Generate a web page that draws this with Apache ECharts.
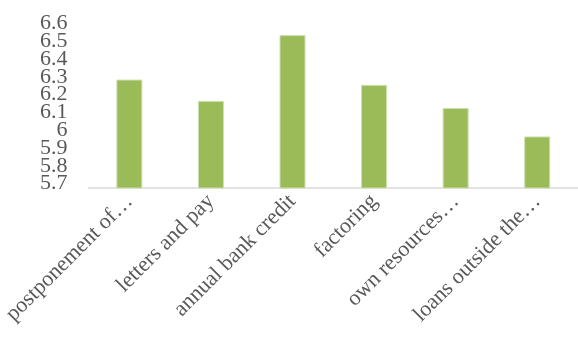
<!DOCTYPE html>
<html>
<head>
<meta charset="utf-8">
<script src="https://cdn.jsdelivr.net/npm/echarts@6/dist/echarts.min.js"></script>
<style>
  html, body { margin: 0; padding: 0; background: #fff; }
  #main { width: 578px; height: 344px; }
</style>
</head>
<body>
<div id="main"></div>
<script>
// categories as shown (truncated by the original chart)
const categories = [
  "postponement of…",
  "letters and pay",
  "annual bank credit",
  "factoring",
  "own resources…",
  "loans outside the…"
];
const values = [6.31, 6.19, 6.56, 6.28, 6.15, 5.99];
const yMin = 5.7;
const yMax = 6.6;
const yStep = 0.1;
// tick labels, bottom to top
const yTickLabels = ["5.7", "5.8", "5.9", "6", "6.1", "6.2", "6.3", "6.4", "6.5", "6.6"];

const labelFont = {
  color: "#595959",
  fontFamily: "Liberation Serif"
};

const myChart = echarts.init(document.getElementById("main"));
myChart.setOption({
  animation: false,
  grid: { left: 86, right: 0, top: 28, bottom: 156 },
  xAxis: {
    type: "category",
    data: categories,
    axisLine: { lineStyle: { color: "#d9d9d9", width: 1.5 } },
    axisTick: { show: false },
    axisLabel: Object.assign({
      rotate: 45,
      interval: 0,
      margin: 10,
      fontSize: 22
    }, labelFont)
  },
  yAxis: [
    {
      // value scale for the bars
      type: "value",
      min: yMin,
      max: yMax,
      interval: yStep,
      splitLine: { show: false },
      axisLine: { show: false },
      axisTick: { show: false },
      axisLabel: { show: false }
    },
    {
      // label-only axis so every tightly packed tick label is kept
      type: "category",
      position: "left",
      data: yTickLabels,
      boundaryGap: false,
      axisLine: { show: false },
      axisTick: { show: false },
      splitLine: { show: false },
      axisLabel: Object.assign({
        interval: 0,
        margin: 21,
        fontSize: 22,
        lineHeight: 9,
        verticalAlign: "bottom"
      }, labelFont)
    }
  ],
  series: [{
    type: "bar",
    yAxisIndex: 0,
    data: values,
    barWidth: 26,
    itemStyle: { color: "#9bbb59", borderColor: "#cddfb0", borderWidth: 1 }
  }]
});
</script>
</body>
</html>
